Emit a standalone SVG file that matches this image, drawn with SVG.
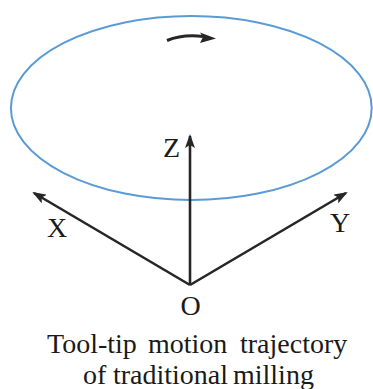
<svg xmlns="http://www.w3.org/2000/svg" width="373" height="389" viewBox="0 0 373 389">
<style>
.lbl{font-family:"Liberation Serif","Times New Roman",serif;font-size:28px;fill:#1a1a1a}
.ax{stroke:#262626;stroke-width:2.6;fill:none}
</style>
<defs>
<marker id="ah" viewBox="0 0 14 10" refX="12" refY="5" markerWidth="14" markerHeight="10" markerUnits="userSpaceOnUse" orient="auto">
<path d="M0,0 L14,5 L0,10 L3,5 Z" fill="#262626"/>
</marker>
</defs>
<rect width="373" height="389" fill="#ffffff"/>
<g id="trajectory">
<ellipse cx="191.3" cy="108" rx="180.4" ry="92" fill="none" stroke="#5b9bd5" stroke-width="2"/>
<path d="M167,40.5 Q183,34 203,36.5" fill="none" stroke="#262626" stroke-width="3"/>
<path d="M216,38.5 L200,32.5 L203,37 L200,43 Z" fill="#262626"/>
</g>
<g id="connectors">
<line class="ax" x1="190" y1="285" x2="190" y2="136" marker-end="url(#ah)"/>
<line class="ax" x1="190" y1="285" x2="34" y2="193" marker-end="url(#ah)"/>
<line class="ax" x1="190" y1="285" x2="346" y2="193" marker-end="url(#ah)"/>
</g>
<g id="axis-z"><text class="lbl" x="163" y="157">Z</text></g>
<g id="axis-x"><text class="lbl" x="47" y="237">X</text></g>
<g id="axis-y"><text class="lbl" x="330" y="232">Y</text></g>
<g id="origin"><text class="lbl" x="190.5" y="315" text-anchor="middle">O</text></g>
<g id="caption">
<text class="lbl"><tspan x="47" y="353">Tool-tip</tspan><tspan x="148" y="353">motion</tspan><tspan x="240" y="353">trajectory</tspan></text>
<text class="lbl"><tspan x="83" y="384">of</tspan><tspan x="113" y="384">traditional</tspan><tspan x="233" y="384">milling</tspan></text>
</g>
</svg>
